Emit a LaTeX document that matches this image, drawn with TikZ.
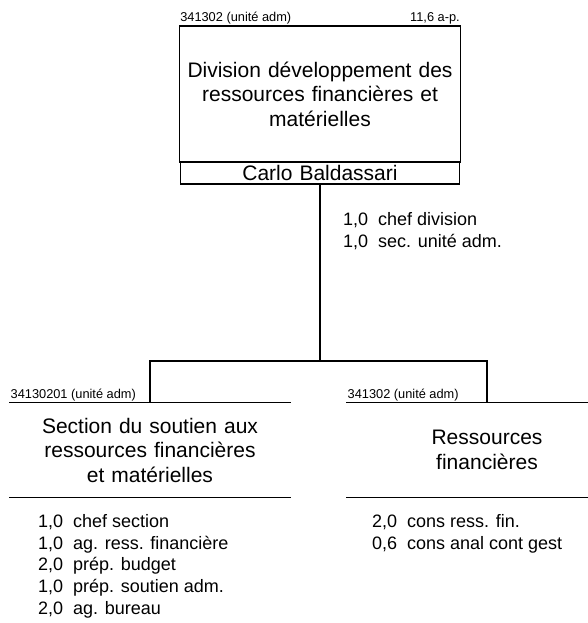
\documentclass[tikz,border=0pt]{standalone}
\usepackage{fontspec}
\setmainfont{Liberation Sans}
\usetikzlibrary{positioning}
\newcommand{\poste}[2]{#1\hspace{.55em}#2}
\tikzset{bloc/.style={draw,line width=1.2pt,text width=274pt,align=center,minimum width=279pt,
  font=\fontsize{21}{24.5}\selectfont},
  nom/.style={bloc,minimum height=22pt,inner sep=0pt},
  section/.style={text width=274pt,align=center,minimum width=280pt,minimum height=94pt,
  font=\fontsize{21}{24.5}\selectfont},
  etiq/.style={font=\fontsize{12.8}{14}\selectfont,inner sep=1pt},
  postes/.style={align=left,inner sep=0pt,font=\fontsize{18}{21.8}\selectfont},
  trait/.style={line width=1.2pt}}

\begin{document}
\begin{tikzpicture}[x=1pt,y=-1pt]
\useasboundingbox (0,0) rectangle (587,623);
% Division (unite superieure)
\node[bloc,minimum height=136pt] (div) at (320,94) {Division développement des\\ressources financières et\\matérielles};
\node[nom] (chef) at (320,173) {Carlo Baldassari};
\node[etiq,anchor=south west] (divno) at (div.north west) {341302 (unité adm)};
\node[etiq,anchor=south east] (divetp) at (div.north east) {11,6 a-p.};
\node[postes,anchor=north west] (divpostes) at (343,212) {\poste{1,0}{chef division}\\\poste{1,0}{sec. unité adm.}};
% Sections
\node[section] (sout) at (150,450) {Section du soutien aux\\ressources financières\\et matérielles};
\node[section] (ressf) at (487,450) {Ressources\\financières};
\node[etiq,anchor=south west] (soutno) at (sout.north west) {34130201 (unité adm)};
\node[etiq,anchor=south west] (ressfno) at (ressf.north west) {341302 (unité adm)};
\draw[trait] (sout.north west) -- (sout.north east) (sout.south west) -- (sout.south east);
\draw[trait] (ressf.north west) -- (ressf.north east) (ressf.south west) -- (ressf.south east);
% Liens
\coordinate (emb) at (320,361);
\draw[trait] (chef.south) -- (emb);
\draw[trait] (sout.north) |- (emb) -| (ressf.north);
% Postes des sections
\node[postes,anchor=north west] (soutpostes) at (38,514) {\poste{1,0}{chef section}\\\poste{1,0}{ag. ress. financière}\\
 \poste{2,0}{prép. budget}\\\poste{1,0}{prép. soutien adm.}\\\poste{2,0}{ag. bureau}};
\node[postes,anchor=north west] (ressfpostes) at (372,514) {\poste{2,0}{cons ress. fin.}\\\poste{0,6}{cons anal cont gest}};
\end{tikzpicture}
\end{document}
